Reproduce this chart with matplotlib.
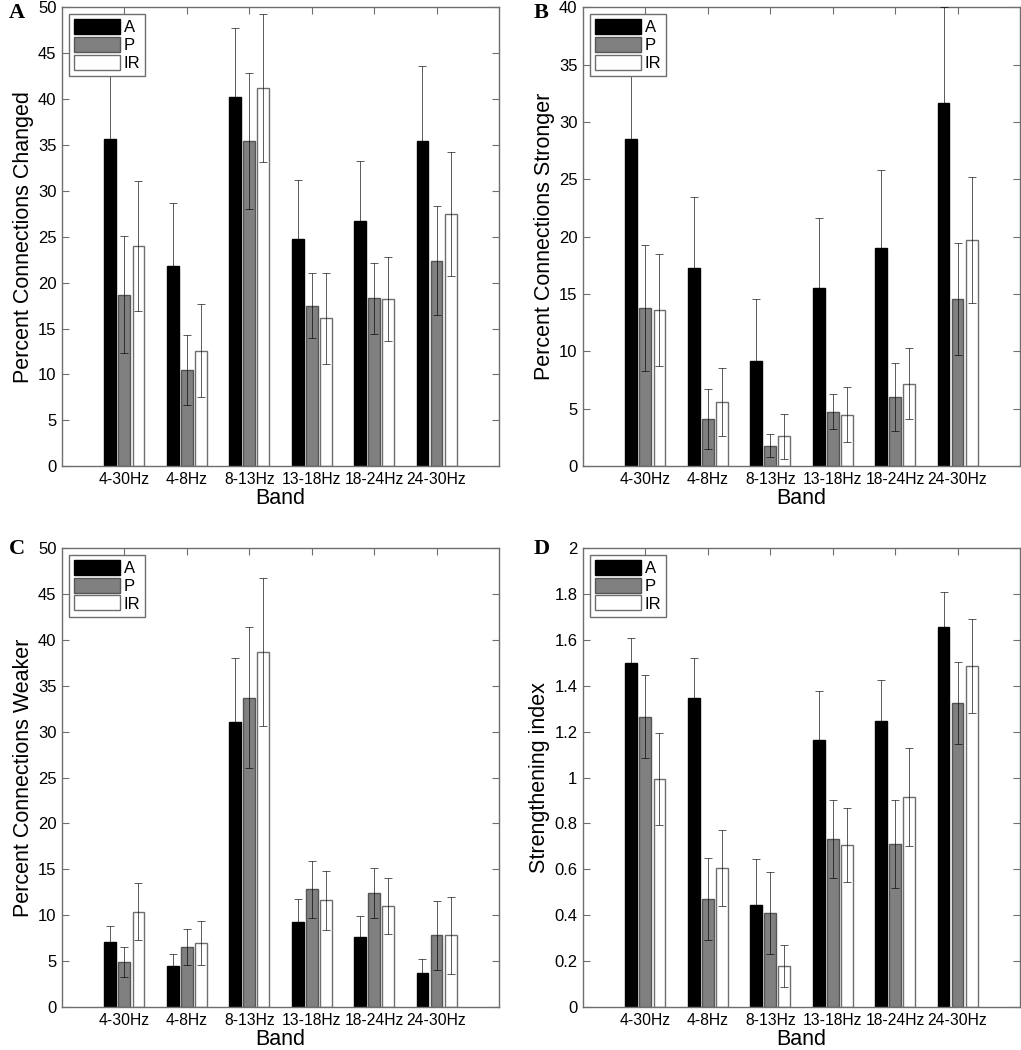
import matplotlib
matplotlib.use("Agg")
import matplotlib.pyplot as plt
import numpy as np
from matplotlib.ticker import FuncFormatter

plt.rcParams['font.family'] = ['Liberation Sans', 'DejaVu Sans']

bands = ['4-30Hz', '4-8Hz', '8-13Hz', '13-18Hz', '18-24Hz', '24-30Hz']
groups = ['A', 'P', 'IR']

# panel A: percent connections changed
changed_A = [35.6, 21.8, 40.2, 24.8, 26.7, 35.4]
changed_A_err = [8.5, 6.9, 7.5, 6.4, 6.6, 8.2]
changed_P = [18.7, 10.5, 35.4, 17.5, 18.3, 22.4]
changed_P_err = [6.35, 3.85, 7.4, 3.55, 3.85, 5.95]
changed_IR = [24.0, 12.6, 41.2, 16.1, 18.2, 27.5]
changed_IR_err = [7.1, 5.1, 8.05, 5.0, 4.6, 6.75]

# panel B: percent connections stronger
stronger_A = [28.5, 17.3, 9.2, 15.5, 19.0, 31.7]
stronger_A_err = [8.5, 6.2, 5.4, 6.1, 6.8, 8.3]
stronger_P = [13.8, 4.1, 1.8, 4.75, 6.0, 14.6]
stronger_P_err = [5.5, 2.6, 1.0, 1.55, 2.97, 4.9]
stronger_IR = [13.6, 5.6, 2.6, 4.5, 7.2, 19.7]
stronger_IR_err = [4.9, 3.0, 1.95, 2.4, 3.1, 5.5]

# panel C: percent connections weaker
weaker_A = [7.1, 4.5, 31.0, 9.3, 7.6, 3.7]
weaker_A_err = [1.7, 1.3, 7.0, 2.5, 2.3, 1.5]
weaker_P = [4.9, 6.5, 33.7, 12.8, 12.4, 7.8]
weaker_P_err = [1.6, 1.95, 7.7, 3.15, 2.75, 3.75]
weaker_IR = [10.4, 7.0, 38.7, 11.6, 11.0, 7.8]
weaker_IR_err = [3.1, 2.4, 8.05, 3.25, 3.05, 4.2]

# panel D: strengthening index
index_A = [1.50, 1.345, 0.445, 1.165, 1.245, 1.655]
index_A_err = [0.11, 0.175, 0.2, 0.21, 0.18, 0.155]
index_P = [1.265, 0.47, 0.41, 0.73, 0.71, 1.325]
index_P_err = [0.18, 0.18, 0.18, 0.17, 0.19, 0.18]
index_IR = [0.995, 0.605, 0.178, 0.705, 0.915, 1.485]
index_IR_err = [0.2, 0.165, 0.09, 0.16, 0.215, 0.205]

panels = [
    ('A', 'Percent Connections Changed', 50, 5,
     [changed_A, changed_P, changed_IR], [changed_A_err, changed_P_err, changed_IR_err]),
    ('B', 'Percent Connections Stronger', 40, 5,
     [stronger_A, stronger_P, stronger_IR], [stronger_A_err, stronger_P_err, stronger_IR_err]),
    ('C', 'Percent Connections Weaker', 50, 5,
     [weaker_A, weaker_P, weaker_IR], [weaker_A_err, weaker_P_err, weaker_IR_err]),
    ('D', 'Strengthening index', 2, 0.2,
     [index_A, index_P, index_IR], [index_A_err, index_P_err, index_IR_err]),
]

face = ['black', '#808080', 'white']
edge = ['black', '#555555', '#6e6e6e']
spine_col = '#6e6e6e'

fig = plt.figure(figsize=(10.21, 10.5), dpi=100)
pos = [(0.0607, 0.556), (0.571, 0.556), (0.0607, 0.041), (0.571, 0.041)]
letter_pos = [(0.009, 0.9876), (0.523, 0.9876), (0.009, 0.4775), (0.523, 0.4775)]

x = np.arange(1, len(bands) + 1)
w = 0.19
offs = [-0.225, 0, 0.225]

for (letter, ylabel, ymax, step, vals, errs), p, lp in zip(panels, pos, letter_pos):
    ax = fig.add_axes([p[0], p[1], 0.428, 0.437])
    for i in range(3):
        ax.bar(x + offs[i], vals[i], w, color=face[i], edgecolor=edge[i],
               linewidth=1.0, label=groups[i], zorder=2)
        ax.errorbar(x + offs[i], vals[i], yerr=errs[i], fmt='none',
                    ecolor='black', elinewidth=0.6, capsize=3, capthick=0.6,
                    alpha=0.75, zorder=3)
    ax.set_xlim(0, 7)
    ax.set_ylim(0, ymax)
    ax.set_xticks(x)
    ax.set_xticklabels(bands, fontsize=11.3)
    ax.set_yticks(np.arange(0, ymax + step / 2, step))
    ax.yaxis.set_major_formatter(FuncFormatter(lambda v, _: '%g' % round(v, 3)))
    ax.tick_params(axis='y', labelsize=12)
    ax.tick_params(direction='in', top=True, right=True, length=5,
                   color=spine_col, width=0.8, pad=4)
    for s in ax.spines.values():
        s.set_color(spine_col)
        s.set_linewidth(1.0)
    ax.set_xlabel('Band', fontsize=15.5, labelpad=1)
    ax.set_ylabel(ylabel, fontsize=15.5, labelpad=3)
    leg = ax.legend(loc='upper left', fontsize=12, handlelength=2.8, handleheight=1.0,
                    labelspacing=0.1, borderpad=0.3, handletextpad=0.2,
                    borderaxespad=0.4, fancybox=False, framealpha=1)
    leg.get_frame().set_edgecolor(spine_col)
    leg.set_zorder(5)
    fig.text(lp[0], lp[1], letter, fontsize=16, fontweight='bold',
             family='Liberation Serif', ha='left', va='center')

fig.savefig('out.png', dpi=100)
